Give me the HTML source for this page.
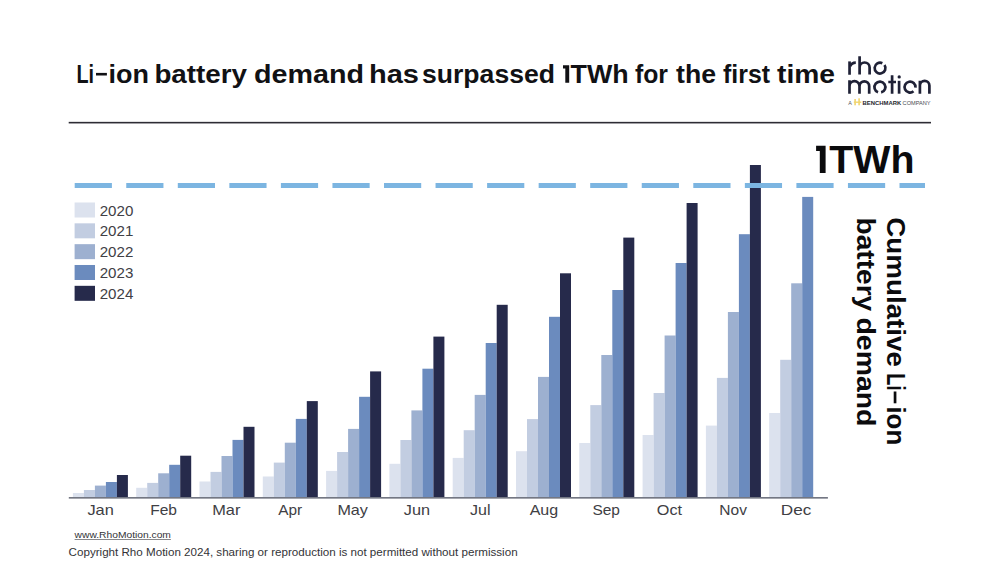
<!DOCTYPE html>
<html><head><meta charset="utf-8">
<style>
html,body{margin:0;padding:0;background:#fff;}
body{width:1000px;height:563px;overflow:hidden;position:relative;font-family:"Liberation Sans",sans-serif;}
svg{position:absolute;left:0;top:0;}
.lab{font-family:"Liberation Sans",sans-serif;font-size:14.5px;fill:#404044;}
.leg{font-family:"Liberation Sans",sans-serif;font-size:15px;fill:#404045;}
.b{font-family:"Liberation Sans",sans-serif;font-weight:bold;}
</style></head>
<body>
<svg width="1000" height="563" viewBox="0 0 1000 563">
<text x="76.40" y="82.8" class="b" font-size="26" fill="#111114" textLength="17.60" lengthAdjust="spacingAndGlyphs">Li</text>
<text x="108.60" y="82.8" class="b" font-size="26" fill="#111114" textLength="40.40" lengthAdjust="spacingAndGlyphs">ion</text>
<text x="154.40" y="82.8" class="b" font-size="26" fill="#111114" textLength="92.60" lengthAdjust="spacingAndGlyphs">battery</text>
<text x="254.00" y="82.8" class="b" font-size="26" fill="#111114" textLength="110.00" lengthAdjust="spacingAndGlyphs">demand</text>
<text x="369.00" y="82.8" class="b" font-size="26" fill="#111114" textLength="50.00" lengthAdjust="spacingAndGlyphs">has</text>
<text x="422.00" y="82.8" class="b" font-size="26" fill="#111114" textLength="133.00" lengthAdjust="spacingAndGlyphs">surpassed</text>
<text x="570.60" y="82.8" class="b" font-size="26" fill="#111114" textLength="58.10" lengthAdjust="spacingAndGlyphs">TWh</text>
<text x="635.00" y="82.8" class="b" font-size="26" fill="#111114" textLength="33.00" lengthAdjust="spacingAndGlyphs">for</text>
<text x="676.00" y="82.8" class="b" font-size="26" fill="#111114" textLength="40.00" lengthAdjust="spacingAndGlyphs">the</text>
<text x="723.00" y="82.8" class="b" font-size="26" fill="#111114" textLength="47.00" lengthAdjust="spacingAndGlyphs">first</text>
<text x="777.00" y="82.8" class="b" font-size="26" fill="#111114" textLength="58.00" lengthAdjust="spacingAndGlyphs">time</text>
<rect x="96" y="72.9" width="10.9" height="2.6" fill="#111114"/>
<path d="M563 65.3 H569.2 V82.8 H565.3 V68.6 H563 Z" fill="#111114"/>
<rect x="68.7" y="121.85" width="862.3" height="1.6" fill="#2d2c34"/>
<rect x="72.90" y="493.00" width="11.00" height="4.00" fill="#dce2ee"/>
<rect x="83.90" y="490.00" width="11.00" height="7.00" fill="#c2cde1"/>
<rect x="94.90" y="485.60" width="11.00" height="11.40" fill="#9db0d0"/>
<rect x="105.90" y="482.00" width="11.00" height="15.00" fill="#6b8bbe"/>
<rect x="116.90" y="475.00" width="11.00" height="22.00" fill="#262a4b"/>
<rect x="136.20" y="487.80" width="11.00" height="9.20" fill="#dce2ee"/>
<rect x="147.20" y="482.90" width="11.00" height="14.10" fill="#c2cde1"/>
<rect x="158.20" y="473.30" width="11.00" height="23.70" fill="#9db0d0"/>
<rect x="169.20" y="464.80" width="11.00" height="32.20" fill="#6b8bbe"/>
<rect x="180.20" y="455.70" width="11.00" height="41.30" fill="#262a4b"/>
<rect x="199.50" y="481.50" width="11.00" height="15.50" fill="#dce2ee"/>
<rect x="210.50" y="471.90" width="11.00" height="25.10" fill="#c2cde1"/>
<rect x="221.50" y="456.00" width="11.00" height="41.00" fill="#9db0d0"/>
<rect x="232.50" y="439.90" width="11.00" height="57.10" fill="#6b8bbe"/>
<rect x="243.50" y="426.80" width="11.00" height="70.20" fill="#262a4b"/>
<rect x="262.80" y="476.50" width="11.00" height="20.50" fill="#dce2ee"/>
<rect x="273.80" y="462.60" width="11.00" height="34.40" fill="#c2cde1"/>
<rect x="284.80" y="442.70" width="11.00" height="54.30" fill="#9db0d0"/>
<rect x="295.80" y="418.90" width="11.00" height="78.10" fill="#6b8bbe"/>
<rect x="306.80" y="401.10" width="11.00" height="95.90" fill="#262a4b"/>
<rect x="326.10" y="470.90" width="11.00" height="26.10" fill="#dce2ee"/>
<rect x="337.10" y="452.00" width="11.00" height="45.00" fill="#c2cde1"/>
<rect x="348.10" y="428.90" width="11.00" height="68.10" fill="#9db0d0"/>
<rect x="359.10" y="396.80" width="11.00" height="100.20" fill="#6b8bbe"/>
<rect x="370.10" y="371.40" width="11.00" height="125.60" fill="#262a4b"/>
<rect x="389.40" y="463.80" width="11.00" height="33.20" fill="#dce2ee"/>
<rect x="400.40" y="440.00" width="11.00" height="57.00" fill="#c2cde1"/>
<rect x="411.40" y="410.40" width="11.00" height="86.60" fill="#9db0d0"/>
<rect x="422.40" y="368.70" width="11.00" height="128.30" fill="#6b8bbe"/>
<rect x="433.40" y="336.60" width="11.00" height="160.40" fill="#262a4b"/>
<rect x="452.70" y="457.90" width="11.00" height="39.10" fill="#dce2ee"/>
<rect x="463.70" y="430.20" width="11.00" height="66.80" fill="#c2cde1"/>
<rect x="474.70" y="394.90" width="11.00" height="102.10" fill="#9db0d0"/>
<rect x="485.70" y="343.00" width="11.00" height="154.00" fill="#6b8bbe"/>
<rect x="496.70" y="304.80" width="11.00" height="192.20" fill="#262a4b"/>
<rect x="516.00" y="451.20" width="11.00" height="45.80" fill="#dce2ee"/>
<rect x="527.00" y="419.10" width="11.00" height="77.90" fill="#c2cde1"/>
<rect x="538.00" y="376.90" width="11.00" height="120.10" fill="#9db0d0"/>
<rect x="549.00" y="316.80" width="11.00" height="180.20" fill="#6b8bbe"/>
<rect x="560.00" y="273.30" width="11.00" height="223.70" fill="#262a4b"/>
<rect x="579.30" y="443.00" width="11.00" height="54.00" fill="#dce2ee"/>
<rect x="590.30" y="405.10" width="11.00" height="91.90" fill="#c2cde1"/>
<rect x="601.30" y="355.00" width="11.00" height="142.00" fill="#9db0d0"/>
<rect x="612.30" y="290.00" width="11.00" height="207.00" fill="#6b8bbe"/>
<rect x="623.30" y="237.60" width="11.00" height="259.40" fill="#262a4b"/>
<rect x="642.60" y="435.00" width="11.00" height="62.00" fill="#dce2ee"/>
<rect x="653.60" y="393.00" width="11.00" height="104.00" fill="#c2cde1"/>
<rect x="664.60" y="335.50" width="11.00" height="161.50" fill="#9db0d0"/>
<rect x="675.60" y="263.00" width="11.00" height="234.00" fill="#6b8bbe"/>
<rect x="686.60" y="203.00" width="11.00" height="294.00" fill="#262a4b"/>
<rect x="705.90" y="425.60" width="11.00" height="71.40" fill="#dce2ee"/>
<rect x="716.90" y="377.90" width="11.00" height="119.10" fill="#c2cde1"/>
<rect x="727.90" y="312.00" width="11.00" height="185.00" fill="#9db0d0"/>
<rect x="738.90" y="234.20" width="11.00" height="262.80" fill="#6b8bbe"/>
<rect x="749.90" y="165.00" width="11.00" height="332.00" fill="#262a4b"/>
<rect x="769.20" y="413.00" width="11.00" height="84.00" fill="#dce2ee"/>
<rect x="780.20" y="359.80" width="11.00" height="137.20" fill="#c2cde1"/>
<rect x="791.20" y="283.30" width="11.00" height="213.70" fill="#9db0d0"/>
<rect x="802.20" y="196.90" width="11.00" height="300.10" fill="#6b8bbe"/>
<rect x="68.8" y="497.0" width="759.10" height="1.65" fill="#737783"/>
<text x="87.40" y="514.6" class="lab" textLength="26.40" lengthAdjust="spacingAndGlyphs">Jan</text>
<text x="150.20" y="514.6" class="lab" textLength="26.80" lengthAdjust="spacingAndGlyphs">Feb</text>
<text x="212.25" y="514.6" class="lab" textLength="28.15" lengthAdjust="spacingAndGlyphs">Mar</text>
<text x="278.30" y="514.6" class="lab" textLength="23.95" lengthAdjust="spacingAndGlyphs">Apr</text>
<text x="337.40" y="514.6" class="lab" textLength="30.45" lengthAdjust="spacingAndGlyphs">May</text>
<text x="403.75" y="514.6" class="lab" textLength="26.25" lengthAdjust="spacingAndGlyphs">Jun</text>
<text x="470.00" y="514.6" class="lab" textLength="20.50" lengthAdjust="spacingAndGlyphs">Jul</text>
<text x="529.70" y="514.6" class="lab" textLength="28.50" lengthAdjust="spacingAndGlyphs">Aug</text>
<text x="592.40" y="514.6" class="lab" textLength="27.55" lengthAdjust="spacingAndGlyphs">Sep</text>
<text x="656.80" y="514.6" class="lab" textLength="25.25" lengthAdjust="spacingAndGlyphs">Oct</text>
<text x="719.30" y="514.6" class="lab" textLength="27.60" lengthAdjust="spacingAndGlyphs">Nov</text>
<text x="780.80" y="514.6" class="lab" textLength="30.50" lengthAdjust="spacingAndGlyphs">Dec</text>
<rect x="74.6" y="202.50" width="20.4" height="15" fill="#dce2ee"/>
<text x="99.7" y="215.50" class="leg" textLength="33.6" lengthAdjust="spacingAndGlyphs">2020</text>
<rect x="74.6" y="223.33" width="20.4" height="15" fill="#c2cde1"/>
<text x="99.7" y="236.25" class="leg" textLength="33.6" lengthAdjust="spacingAndGlyphs">2021</text>
<rect x="74.6" y="244.16" width="20.4" height="15" fill="#9db0d0"/>
<text x="99.7" y="257.00" class="leg" textLength="33.6" lengthAdjust="spacingAndGlyphs">2022</text>
<rect x="74.6" y="264.99" width="20.4" height="15" fill="#6b8bbe"/>
<text x="99.7" y="277.75" class="leg" textLength="33.6" lengthAdjust="spacingAndGlyphs">2023</text>
<rect x="74.6" y="285.82" width="20.4" height="15" fill="#262a4b"/>
<text x="99.7" y="298.50" class="leg" textLength="33.6" lengthAdjust="spacingAndGlyphs">2024</text>
<line x1="74.7" y1="185.5" x2="925" y2="185.5" stroke="#7cb5e1" stroke-width="4.9" stroke-dasharray="37.2 14.35"/>
<path d="M816.1 145.7 L825.6 145.7 L825.6 173.1 L819.8 173.1 L819.8 150.9 L816.1 150.9 Z" fill="#0b0b0d"/>
<text x="829.3" y="173" class="b" font-size="38" fill="#0b0b0d" textLength="85.2" lengthAdjust="spacingAndGlyphs">TWh</text>
<text transform="translate(887.2,217.30) rotate(90)" x="0" y="0" class="b" font-size="25" fill="#0b0b0d" textLength="149.60" lengthAdjust="spacingAndGlyphs">Cumulative</text>
<text transform="translate(887.2,373.20) rotate(90)" x="0" y="0" class="b" font-size="25" fill="#0b0b0d" textLength="17.60" lengthAdjust="spacingAndGlyphs">Li</text>
<text transform="translate(887.2,406.40) rotate(90)" x="0" y="0" class="b" font-size="25" fill="#0b0b0d" textLength="38.80" lengthAdjust="spacingAndGlyphs">ion</text>
<text transform="translate(857,217.50) rotate(90)" x="0" y="0" class="b" font-size="25" fill="#0b0b0d" textLength="93.70" lengthAdjust="spacingAndGlyphs">battery</text>
<text transform="translate(857,317.50) rotate(90)" x="0" y="0" class="b" font-size="25" fill="#0b0b0d" textLength="109.00" lengthAdjust="spacingAndGlyphs">demand</text>
<rect x="893.7" y="391.5" width="2.7" height="11.8" fill="#0b0b0d"/>
<text x="74.6" y="538.2" font-size="9.6" fill="#333337" textLength="96.3" lengthAdjust="spacingAndGlyphs">www.RhoMotion.com</text>
<rect x="74.6" y="539.3" width="96.3" height="0.7" fill="#55555a"/>
<text x="68.6" y="555.5" font-size="10.5" fill="#333337" textLength="449" lengthAdjust="spacingAndGlyphs">Copyright Rho Motion 2024, sharing or reproduction is not permitted without permission</text>
<!-- logo -->
<g fill="none" stroke="#1f2136" stroke-width="2.7">
<path d="M849.55 74.75 V61.4"/>
<path d="M850.2 66.3 Q851.5 62.6 855.8 62.6" />
<path d="M859.6 56.2 V74.6 M859.6 67.5 A5 5 0 0 1 869.6 67.5 V74.6"/>
<path d="M884.47 65.00 A5.4 5.4 0 1 1 882.33 63.21"/>
<path d="M849.5 80.3 V93.7 M849.5 86.2 A5 5 0 0 1 859.5 86.2 V93.7 M859.5 86.2 A4.6 4.6 0 0 1 869.2 86.2 V93.7"/>
<path d="M878.04 92.22 A5.45 5.45 0 1 1 881.13 92.41"/>
<path d="M892.1 75.3 V93.7 M888.3 82 H896"/>
<path d="M899.1 80.8 V93.7"/>
<path d="M913.50 91.27 A5.45 5.45 0 1 1 915.43 87.57"/>
<path d="M919.9 80.8 V93.7 M919.9 85.6 A4.75 4.75 0 0 1 929.4 85.6 V93.7"/>
</g>
<circle cx="899.2" cy="76.9" r="1.65" fill="#1f2136"/>
<text x="848.2" y="105" font-size="5" fill="#55565c" textLength="3.6" lengthAdjust="spacingAndGlyphs">A</text>
<g fill="#f1d56e"><rect x="854.3" y="99" width="1.6" height="6.3"/><rect x="858.3" y="98.3" width="1.6" height="7"/><rect x="853.8" y="101.5" width="7.5" height="1.4"/></g>
<text x="862.5" y="105" font-size="5.2" font-weight="bold" fill="#26272e" textLength="38.7" lengthAdjust="spacingAndGlyphs">BENCHMARK</text>
<text x="902.6" y="105" font-size="5" fill="#4a4b52" textLength="28" lengthAdjust="spacingAndGlyphs">COMPANY</text>
</svg>
</body></html>
